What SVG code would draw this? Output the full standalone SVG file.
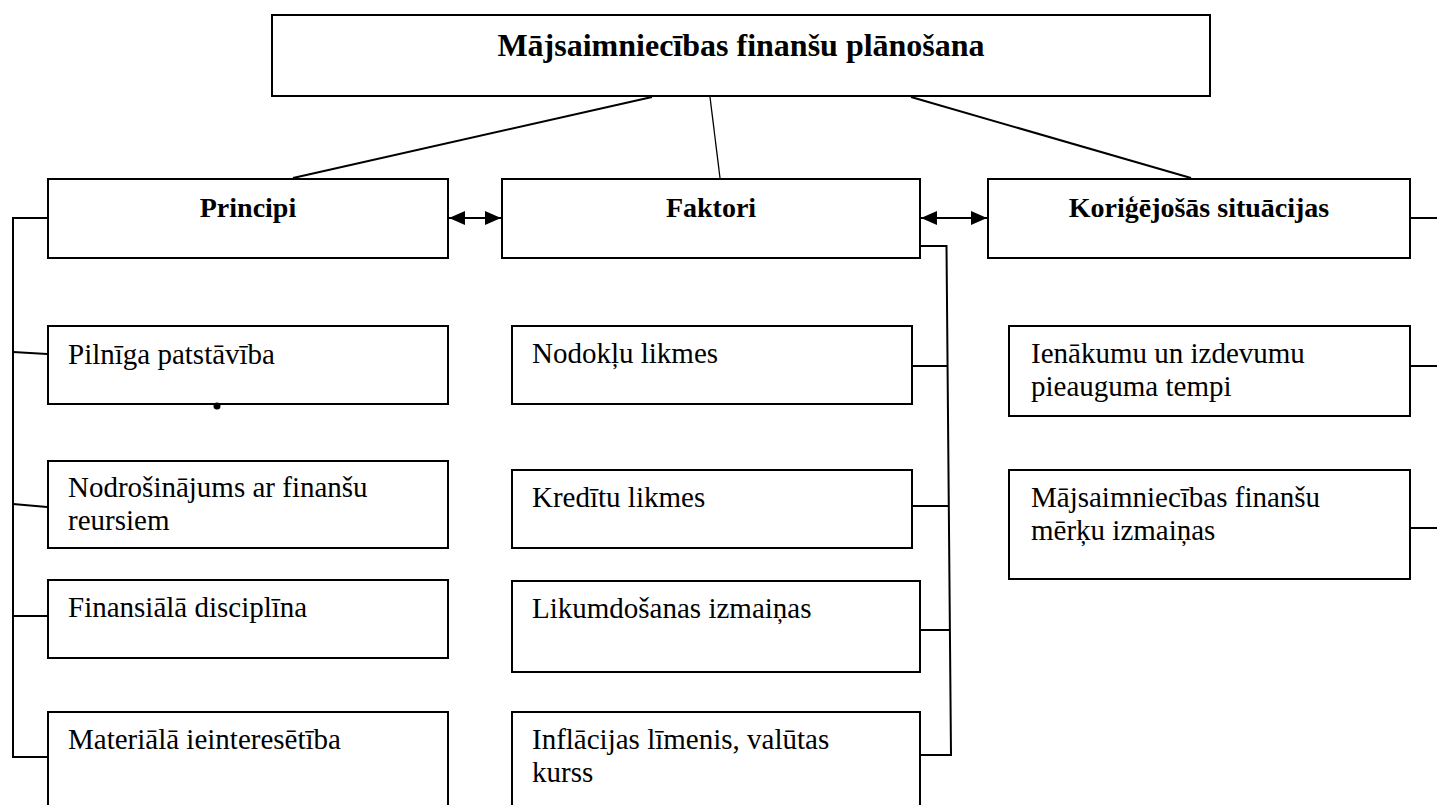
<svg xmlns="http://www.w3.org/2000/svg" width="1437" height="805" viewBox="0 0 1437 805">
<style>
.box{fill:#fff;stroke:#000;stroke-width:2}
.ln{fill:none;stroke:#000;stroke-width:2}
.thin{fill:none;stroke:#000;stroke-width:1.3}
.t{font-family:"Liberation Serif","Times New Roman",serif;font-size:29px;fill:#000}
.h{font-family:"Liberation Serif","Times New Roman",serif;font-size:28px;font-weight:bold;fill:#000;text-anchor:middle}
.title{font-family:"Liberation Serif","Times New Roman",serif;font-size:32px;font-weight:bold;fill:#000;text-anchor:middle}
</style>
<defs>
<marker id="ah" viewBox="0 0 16 14" refX="16" refY="7" markerWidth="16" markerHeight="14" markerUnits="userSpaceOnUse" orient="auto-start-reverse">
<path d="M0,0 L16,7 L0,14 z" fill="#000"/>
</marker>
</defs>
<rect width="1437" height="805" fill="#fff"/>

<g id="root"><rect class="box" x="272" y="15" width="938" height="81"/><text class="title" x="741" y="56">Mājsaimniecības finanšu plānošana</text></g>

<g id="principi"><rect class="box" x="48" y="179" width="400" height="79"/><text class="h" x="248" y="217">Principi</text></g>
<g id="faktori"><rect class="box" x="502" y="179" width="418" height="79"/><text class="h" x="711" y="217">Faktori</text></g>
<g id="korigejosas"><rect class="box" x="988" y="179" width="422" height="79"/><text class="h" x="1199" y="217">Koriģējošās situācijas</text></g>

<g id="pilniga"><rect class="box" x="48" y="326" width="400" height="78"/><text class="t" x="68" y="364">Pilnīga patstāvība</text></g>
<g id="nodrosinajums"><rect class="box" x="48" y="461" width="400" height="87"/><text class="t" x="68" y="497">Nodrošinājums ar finanšu</text><text class="t" x="68" y="530">reursiem</text></g>
<g id="finansiala"><rect class="box" x="48" y="580" width="400" height="78"/><text class="t" x="68" y="617">Finansiālā disciplīna</text></g>
<g id="materiala"><rect class="box" x="48" y="712" width="400" height="100"/><text class="t" x="68" y="749">Materiālā ieinteresētība</text></g>

<g id="nodoklu"><rect class="box" x="512" y="326" width="400" height="78"/><text class="t" x="532" y="363">Nodokļu likmes</text></g>
<g id="kreditu"><rect class="box" x="512" y="470" width="400" height="78"/><text class="t" x="532" y="507">Kredītu likmes</text></g>
<g id="likumdosanas"><rect class="box" x="512" y="581" width="408" height="91"/><text class="t" x="532" y="618">Likumdošanas izmaiņas</text></g>
<g id="inflacijas"><rect class="box" x="512" y="712" width="408" height="100"/><text class="t" x="532" y="749">Inflācijas līmenis, valūtas</text><text class="t" x="532" y="782">kurss</text></g>

<g id="ienakumu"><rect class="box" x="1009" y="326" width="401" height="90"/><text class="t" x="1031" y="363">Ienākumu un izdevumu</text><text class="t" x="1031" y="396">pieauguma tempi</text></g>
<g id="merku"><rect class="box" x="1009" y="470" width="401" height="109"/><text class="t" x="1031" y="507">Mājsaimniecības finanšu</text><text class="t" x="1031" y="540">mērķu izmaiņas</text></g>

<g id="connectors">
<line class="ln" x1="652" y1="97" x2="293" y2="178"/>
<line class="thin" x1="710" y1="97" x2="720" y2="178"/>
<line class="ln" x1="911" y1="97" x2="1191" y2="178"/>
<line class="ln" x1="449" y1="218" x2="501" y2="218" marker-start="url(#ah)" marker-end="url(#ah)"/>
<line class="ln" x1="921" y1="218" x2="987" y2="218" marker-start="url(#ah)" marker-end="url(#ah)"/>
<polyline class="ln" points="47,218 13,218 13,757 47,757"/>
<line class="ln" x1="13" y1="352" x2="47" y2="354"/>
<line class="ln" x1="13" y1="504" x2="47" y2="507"/>
<line class="ln" x1="13" y1="616" x2="47" y2="616"/>
<polyline class="ln" points="921,246 946.5,246 951,755 921,755"/>
<line class="ln" x1="913" y1="366" x2="947" y2="366"/>
<line class="ln" x1="913" y1="506" x2="948" y2="506"/>
<line class="ln" x1="921" y1="630" x2="949.5" y2="630"/>
<line class="ln" x1="1411" y1="218" x2="1437" y2="218"/>
<line class="ln" x1="1411" y1="366" x2="1437" y2="366"/>
<line class="ln" x1="1411" y1="528" x2="1437" y2="528"/>
<circle cx="217" cy="406" r="3.5" fill="#000"/>
</g>
</svg>
